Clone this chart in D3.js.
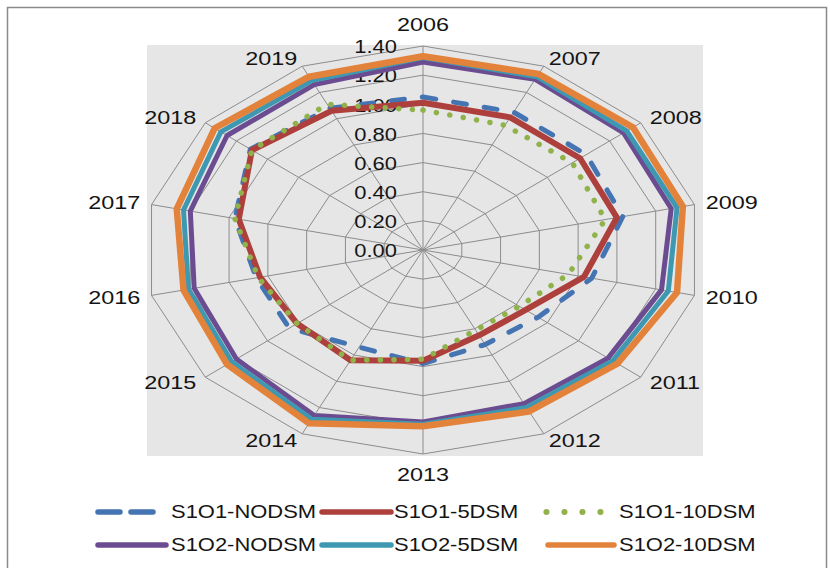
<!DOCTYPE html>
<html>
<head>
<meta charset="utf-8">
<script src="https://cdn.jsdelivr.net/npm/d3@7"></script>
<style>
  body { margin: 0; background: #fff; }
  svg { display: block; }
  text { font-family: "Liberation Sans", Arial, sans-serif; fill: #141414; }
</style>
</head>
<body>
<svg id="chart" width="830" height="568"></svg>
<script>
// ---- data ----
const categories = ["2006", "2007", "2008", "2009", "2010", "2011", "2012",
                    "2013", "2014", "2015", "2016", "2017", "2018", "2019"];
const tickValues = [0, 0.2, 0.4, 0.6, 0.8, 1.0, 1.2, 1.4];
const seriesNames = ["S1O1-NODSM", "S1O1-5DSM", "S1O1-10DSM",
                     "S1O2-NODSM", "S1O2-5DSM", "S1O2-10DSM"];
const s1o1Nodsm = [1.05, 1.05, 1.05, 1.03, 0.87, 0.74, 0.72, 0.78, 0.74, 0.86, 0.86, 0.97, 1.11, 1.08];
const s1o15dsm  = [1.01, 1.01, 1.01, 1.00, 0.83, 0.66, 0.65, 0.76, 0.84, 0.81, 0.84, 0.95, 1.10, 1.06];
const s1o110dsm = [0.96, 0.95, 0.96, 0.94, 0.75, 0.62, 0.61, 0.75, 0.84, 0.81, 0.85, 0.97, 1.10, 1.11];
const s1o2Nodsm = [1.29, 1.30, 1.29, 1.28, 1.23, 1.19, 1.17, 1.18, 1.26, 1.20, 1.18, 1.20, 1.26, 1.26];
const s1o25dsm  = [1.32, 1.32, 1.31, 1.31, 1.265, 1.22, 1.20, 1.195, 1.29, 1.23, 1.21, 1.235, 1.30, 1.29];
const s1o210dsm = [1.33, 1.34, 1.35, 1.34, 1.31, 1.25, 1.23, 1.21, 1.32, 1.26, 1.235, 1.27, 1.34, 1.32];

const seriesValues = [s1o1Nodsm, s1o15dsm, s1o110dsm, s1o2Nodsm, s1o25dsm, s1o210dsm];

// ---- styles ----
const seriesStyles = [
  { color: "#4574b3", width: 5,   dash: "13,18", legendDash: "22,11" },
  { color: "#ad403c", width: 6,   dash: null,    legendDash: null },
  { color: "#8fb24a", width: 5.5, dash: "0.1,13.5", legendDash: "0.1,17.9" },
  { color: "#6b4c90", width: 5,   dash: null,    legendDash: null },
  { color: "#3e98b2", width: 5,   dash: null,    legendDash: null },
  { color: "#e3823a", width: 6.5, dash: null,    legendDash: null }
];

// ---- layout ----
const W = 830, H = 568;
const cx = 423, cy = 250;
const stretchX = 1.365;          // the plot is wider than tall
const outerR = 204;
const plotBox = { x: 147, y: 45, w: 556, h: 411 };

const svg = d3.select("#chart");

svg.append("rect").attr("x", 0).attr("y", 0).attr("width", W).attr("height", H).attr("fill", "#fff");
svg.append("rect")
  .attr("x", 7.5).attr("y", 7.5).attr("width", 819).attr("height", 572)
  .attr("fill", "none").attr("stroke", "#8a8a8a").attr("stroke-width", 1.5);

svg.append("rect")
  .attr("x", plotBox.x).attr("y", plotBox.y).attr("width", plotBox.w).attr("height", plotBox.h)
  .attr("fill", "#e6e6e6");

const r = d3.scaleLinear().domain([0, 1.4]).range([0, outerR]);
const angle = d3.scaleLinear().domain([0, categories.length]).range([0, 2 * Math.PI]);

const px = (i, v) => cx + stretchX * r(v) * Math.sin(angle(i));
const py = (i, v) => cy - r(v) * Math.cos(angle(i));

const closedLine = d3.line()
  .x(d => px(d.i, d.v))
  .y(d => py(d.i, d.v))
  .curve(d3.curveLinearClosed);

// ---- grid ----
const grid = svg.append("g").attr("fill", "none").attr("stroke", "#8c8c8c").attr("stroke-width", 1);
tickValues.filter(t => t > 0).forEach(t => {
  grid.append("path").attr("d", closedLine(categories.map((c, i) => ({ i, v: t }))));
});
categories.forEach((c, i) => {
  grid.append("line")
    .attr("x1", px(i, 0)).attr("y1", py(i, 0))
    .attr("x2", px(i, 1.4)).attr("y2", py(i, 1.4));
});

// ---- value axis labels ----
const fmt = d3.format(".2f");
svg.append("g").selectAll("text").data(tickValues).join("text")
  .attr("transform", d => `translate(${cx - 26},${py(0, d) + 1}) scale(1.22,1)`)
  .attr("text-anchor", "end")
  .attr("dominant-baseline", "central")
  .attr("font-size", 18)
  .text(d => fmt(d));

// ---- series ----
const seriesG = svg.append("g").attr("fill", "none");
seriesValues.forEach((vals, s) => {
  const st = seriesStyles[s];
  const p = seriesG.append("path")
    .attr("d", closedLine(vals.map((v, i) => ({ i, v }))))
    .attr("stroke", st.color)
    .attr("stroke-width", st.width)
    .attr("stroke-linejoin", "round")
    .attr("stroke-linecap", "round");
  if (st.dash) p.attr("stroke-dasharray", st.dash);
});

// ---- category labels ----
const labelRx = 290, labelRy = 212;
svg.append("g").selectAll("text").data(categories).join("text")
  .each(function (d, i) {
    const a = angle(i), s = Math.sin(a), c = Math.cos(a);
    const x = cx + labelRx * s;
    let y = cy - labelRy * c;
    let anchor = "middle";
    if (Math.abs(s) < 0.01) {
      y += c > 0 ? -13 : 13;
    } else {
      anchor = s > 0 ? "start" : "end";
    }
    d3.select(this)
      .attr("transform", `translate(${Math.abs(s) < 0.01 ? cx : x},${y}) scale(1.3,1)`)
      .attr("text-anchor", anchor);
  })
  .attr("dominant-baseline", "central")
  .attr("font-size", 18)
  .text(d => d);

// ---- legend ----
const legendRows = [512, 545];
const legendCols = [
  { x0: 98, x1: 166, tx: 171 },
  { x0: 322, x1: 391, tx: 394 },
  { x0: 548, x1: 614, tx: 619 }
];
const legend = svg.append("g");
seriesNames.forEach((name, s) => {
  const row = legendRows[Math.floor(s / 3)];
  const col = legendCols[s % 3];
  const st = seriesStyles[s];
  let x0 = col.x0, x1 = col.x1;
  if (s === 0) { x1 = 153.5; }
  if (s === 2) { x0 = 546.4; x1 = 601; }
  const ln = legend.append("line")
    .attr("x1", x0).attr("x2", x1).attr("y1", row).attr("y2", row)
    .attr("stroke", st.color)
    .attr("stroke-width", s === 2 ? 6 : 5.5)
    .attr("stroke-linecap", "round");
  if (st.legendDash) ln.attr("stroke-dasharray", st.legendDash);
  legend.append("text")
    .attr("transform", `translate(${col.tx},${row}) scale(1.22,1)`)
    .attr("dominant-baseline", "central")
    .attr("font-size", 18)
    .text(name);
});
</script>
</body>
</html>
